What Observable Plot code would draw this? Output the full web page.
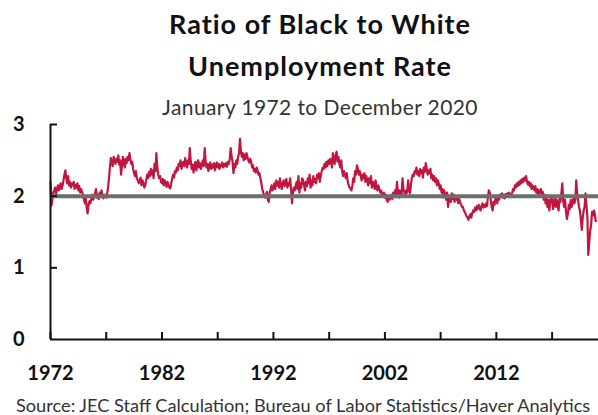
<!DOCTYPE html>
<html><head><meta charset="utf-8">
<script src="https://cdn.jsdelivr.net/npm/d3@7"></script>
<script src="https://cdn.jsdelivr.net/npm/@observablehq/plot@0.6"></script>
<style>
body{margin:0;width:598px;height:415px;overflow:hidden;position:relative;background:#fff;font-family:Lato,sans-serif;}
#title{position:absolute;left:0;top:3px;width:640px;text-align:center;font-weight:bold;font-size:27px;letter-spacing:1px;line-height:42px;color:#111;}
#subtitle{position:absolute;left:0;top:94px;width:640px;text-align:center;font-size:21px;letter-spacing:0.4px;line-height:25px;color:#333;}
#chart{position:absolute;left:0;top:110px;}
#source{position:absolute;left:16px;top:394px;white-space:nowrap;font-size:18.2px;line-height:22px;color:#333;}
</style></head>
<body>
<div id="title">Ratio of Black to White<br>Unemployment Rate</div>
<div id="subtitle">January 1972 to December 2020</div>
<div id="chart"></div>
<div id="source">Source: JEC Staff Calculation; Bureau of Labor Statistics/Haver Analytics</div>
<script>
const startYear = 1972;
const ratio1970s = [
 2.20,1.87,1.95,2.05,2.08,2.12,2.02,2.10,2.15,2.08,2.12,2.18,
 2.10,2.15,2.22,2.30,2.36,2.25,2.18,2.28,2.15,2.20,2.12,2.18,
 2.15,2.20,2.10,2.16,2.12,2.18,2.08,2.14,2.05,2.10,2.06,2.02,
 1.95,1.90,1.98,1.84,1.76,1.88,1.93,1.90,1.97,2.02,1.95,2.00,
 2.04,2.10,1.98,2.02,1.96,2.05,2.00,2.08,1.99,1.97,2.02,2.00,
 1.98,2.04,2.12,2.25,2.40,2.53,2.48,2.42,2.55,2.50,2.45,2.52,
 2.48,2.57,2.44,2.50,2.30,2.42,2.55,2.48,2.40,2.52,2.46,2.55,
 2.50,2.60,2.52,2.45,2.48,2.38,2.32,2.28,2.35,2.25,2.22,2.18
];
const ratio1980s = [
 2.20,2.26,2.15,2.22,2.18,2.12,2.15,2.22,2.30,2.25,2.34,2.28,
 2.38,2.30,2.36,2.25,2.45,2.35,2.60,2.40,2.30,2.25,2.28,2.20,
 2.18,2.24,2.15,2.22,2.18,2.13,2.20,2.16,2.12,2.11,2.18,2.25,
 2.30,2.26,2.35,2.33,2.40,2.36,2.45,2.42,2.50,2.38,2.45,2.48,
 2.42,2.53,2.46,2.40,2.50,2.45,2.67,2.48,2.38,2.44,2.33,2.42,
 2.48,2.36,2.45,2.50,2.40,2.46,2.38,2.44,2.50,2.42,2.67,2.48,
 2.40,2.45,2.35,2.42,2.47,2.38,2.44,2.40,2.46,2.36,2.43,2.47,
 2.40,2.45,2.38,2.44,2.42,2.47,2.40,2.45,2.42,2.46,2.41,2.48,
 2.45,2.52,2.67,2.55,2.48,2.32,2.45,2.40,2.50,2.45,2.55,2.60,
 2.80,2.62,2.55,2.60,2.50,2.58,2.52,2.60,2.55,2.50,2.47,2.52
];
const ratio1990s = [
 2.48,2.40,2.43,2.35,2.38,2.33,2.40,2.36,2.30,2.32,2.25,2.18,
 2.10,2.05,2.00,1.98,2.02,2.06,1.95,1.92,2.05,2.10,2.15,2.08,
 2.12,2.18,2.10,2.22,2.15,2.20,2.12,2.25,2.16,2.10,2.18,2.22,
 2.14,2.20,2.24,2.12,2.18,2.15,2.25,2.10,1.90,2.05,2.12,2.08,
 2.15,2.20,2.10,2.28,2.05,2.18,2.12,2.25,2.22,2.15,2.08,2.20,
 2.14,2.25,2.18,2.30,2.12,2.22,2.15,2.28,2.20,2.24,2.18,2.30,
 2.25,2.32,2.20,2.28,2.35,2.40,2.38,2.45,2.40,2.48,2.42,2.50,
 2.45,2.52,2.48,2.40,2.60,2.50,2.45,2.58,2.62,2.48,2.55,2.45,
 2.40,2.50,2.35,2.28,2.35,2.30,2.25,2.32,2.20,2.15,2.12,2.10,
 2.08,2.15,2.25,2.20,2.35,2.30,2.43,2.38,2.30,2.35,2.28,2.22
];
const ratio2000s = [
 2.30,2.25,2.32,2.20,2.28,2.22,2.15,2.25,2.18,2.28,2.12,2.20,
 2.18,2.10,2.22,2.12,2.08,2.15,2.10,2.05,2.08,2.02,2.00,2.05,
 1.98,2.02,1.95,1.92,2.00,1.95,1.98,2.02,1.96,2.05,2.00,2.08,
 2.02,2.20,2.05,1.98,2.08,2.02,2.00,2.25,2.10,2.05,2.00,2.08,
 2.05,2.22,2.10,2.04,2.15,2.25,2.30,2.28,2.35,2.32,2.40,2.30,
 2.35,2.28,2.38,2.32,2.36,2.26,2.40,2.34,2.46,2.38,2.30,2.36,
 2.32,2.38,2.25,2.30,2.22,2.28,2.20,2.25,2.15,2.22,2.18,2.10,
 2.15,2.05,2.10,1.98,2.08,2.02,1.95,2.05,1.85,1.95,2.00,1.92,
 2.04,1.96,2.02,1.92,1.98,1.95,2.00,1.90,1.96,1.92,1.88,1.85,
 1.85,1.80,1.78,1.75,1.72,1.70,1.67,1.72,1.75,1.70,1.76,1.80
];
const ratio2010s = [
 1.78,1.84,1.80,1.86,1.82,1.88,1.84,1.80,1.86,1.90,1.84,1.88,
 1.85,1.90,1.86,2.00,2.08,2.05,1.95,1.85,1.80,1.92,1.88,1.96,
 1.98,1.90,2.00,1.95,2.02,2.00,2.04,1.98,2.02,1.97,2.03,2.00,
 2.04,1.99,2.05,2.02,2.00,2.04,2.10,2.08,2.15,2.12,2.18,2.14,
 2.20,2.16,2.22,2.18,2.24,2.20,2.26,2.22,2.28,2.20,2.16,2.20,
 2.14,2.18,2.10,2.15,2.12,2.08,2.14,2.05,2.10,2.02,2.08,2.04,
 2.10,2.00,2.06,1.95,2.02,1.90,1.98,1.85,1.95,1.80,1.92,2.00,
 1.95,1.82,1.90,2.00,1.85,1.95,1.88,1.80,1.98,1.92,2.05,2.18,
 1.92,1.85,1.95,1.78,1.68,1.75,1.88,1.82,1.95,1.85,1.90,1.98,
 1.90,1.95,2.22,2.05,1.95,1.85,1.80,1.67,1.53,1.70,1.80,1.85
];
const ratio2020 = [2.04,1.87,1.72,1.18,1.35,1.52,1.59,1.78,1.73,1.80,1.75,1.65];

const tickYears = [1972,1977,1982,1987,1992,1997,2002,2007,2012,2017];
const labelYears = [1972,1982,1992,2002,2012];
const yTicks = [1,2,3];
const yLabels = [0,1,2,3];
const refLevel = 2;

const ratio = [...ratio1970s, ...ratio1980s, ...ratio1990s, ...ratio2000s, ...ratio2010s, ...ratio2020];
const data = ratio.map((v, i) => ({date: new Date(Date.UTC(startYear, i, 1)), value: v}));
const xStart = new Date(Date.UTC(1972, 0, 1));
const xEnd = new Date(Date.UTC(2021, 2, 1));
const yearDate = y => new Date(Date.UTC(y, 0, 1));

const W = 598, H = 282, mT = 14, mB = 53, mL = 50, mR = 0, tickLen = 7;
const frameH = H - mT - mB;
const xTickEnd = d3.scaleUtc([xStart, xEnd], [mL, W - mR]).invert(mL + tickLen);

const chart = Plot.plot({
  width: W, height: H,
  marginTop: mT, marginBottom: mB, marginLeft: mL, marginRight: mR,
  x: {type: "utc", domain: [xStart, xEnd], axis: null},
  y: {domain: [0, 3], axis: null},
  style: {fontFamily: "Lato, sans-serif", fontSize: "20px", fontWeight: "bold", color: "#111", overflow: "visible", background: "transparent"},
  marks: [
    Plot.lineY(data, {x: "date", y: "value", stroke: "#c0163f", strokeWidth: 2.2}),
    Plot.ruleY([refLevel], {stroke: "#6e6e6e", strokeWidth: 4}),
    Plot.ruleX(tickYears.map(yearDate), {x: d => d, y1: 3, y2: 0, insetTop: frameH - tickLen, stroke: "#111", strokeWidth: 2}),
    Plot.ruleY(yTicks, {y: d => d, x1: xStart, x2: xTickEnd, stroke: "#111", strokeWidth: 2}),
    Plot.axisX(labelYears.map(yearDate), {tickSize: 0, tickPadding: 26, tickFormat: d => String(d.getUTCFullYear()), label: null}),
    Plot.axisY(yLabels, {tickSize: 0, tickPadding: 26, tickFormat: d => String(d), label: null}),
    Plot.ruleX([xStart], {y1: 0, y2: 3, stroke: "#111", strokeWidth: 2}),
    Plot.ruleY([0], {stroke: "#111", strokeWidth: 2})
  ]
});
document.getElementById("chart").append(chart);
</script>
</body></html>
